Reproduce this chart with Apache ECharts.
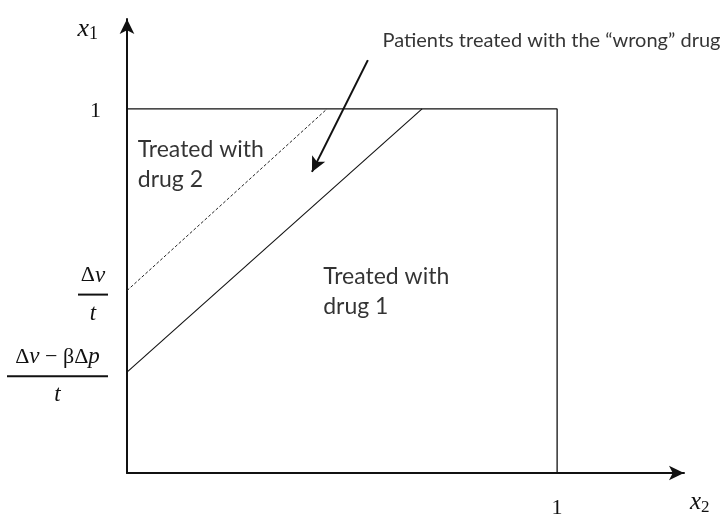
<!DOCTYPE html>
<html><head><meta charset="utf-8">
<script src="https://cdn.jsdelivr.net/npm/echarts@6/dist/echarts.min.js"></script>
<style>html,body{margin:0;padding:0;background:#fff}#c{width:724px;height:519px}</style>
</head><body><div id="c"></div>
<script>
// ---- data ----
const boxLine = [[0, 1], [1, 1], [1, 0]];
const solidBoundary = [[0, 0.277], [0.686, 1]];
const dashedBoundary = [[0, 0.501], [0.465, 1]];
const arrowFrom = [0.560, 1.134];
const arrowTo = [0.430, 0.827];
const yTickValues = [0.277, 0.501, 1];
const xTickValues = [1];
const titleNote = { value: [0.594, 1.225], text: 'Patients treated with the \u201cwrong\u201d drug' };
const regionNotes = [
  { value: [0.025, 0.930], text: 'Treated with\ndrug 2' },
  { value: [0.456, 0.580], text: 'Treated with\ndrug 1' }
];

const serif = 'Liberation Serif';
const sans = 'Lato';
const chart = echarts.init(document.getElementById('c'));

function yLabel(v) {
  if (Math.abs(v - 1) < 1e-6) return '{gap1| }\n{one|1}';
  if (Math.abs(v - 0.501) < 1e-6) return '{gap| }\n{u|\u0394}{i|v}\n{bar1| }\n{i|t}';
  return '{gap| }\n{u|\u0394}{i|v}{u| \u2212 \u03b2\u0394}{i|p}\n{bar2| }\n{i|t}';
}

chart.setOption({
  animation: false,
  grid: { left: 127, right: 40, top: 19, bottom: 45 },
  xAxis: {
    type: 'value', min: 0, max: 1.295,
    splitLine: { show: false },
    axisTick: { show: false },
    axisLine: { lineStyle: { color: '#111', width: 2 }, symbol: ['none', 'arrow'], symbolSize: [11, 15] },
    axisLabel: { customValues: xTickValues, formatter: () => '1', fontFamily: serif, fontSize: 22, color: '#111', margin: 24 },
    name: '{i|x}{s|2}', nameLocation: 'end', nameGap: 6,
    nameTextStyle: {
      align: 'left', verticalAlign: 'top', padding: [16, 0, 0, 0],
      rich: { i: { fontFamily: serif, fontStyle: 'italic', fontSize: 25, color: '#111' },
              s: { fontFamily: serif, fontSize: 17, color: '#111', padding: [10, 0, 0, 0] } }
    }
  },
  yAxis: {
    type: 'value', min: 0, max: 1.247,
    splitLine: { show: false },
    axisTick: { show: false },
    axisLine: { lineStyle: { color: '#111', width: 2 }, symbol: ['none', 'arrow'], symbolSize: [11, 15] },
    axisLabel: {
      customValues: yTickValues, formatter: yLabel, margin: 19, align: 'right', verticalAlign: 'middle',
      rich: {
        gap: { fontSize: 1, lineHeight: 8, height: 8 },
        gap1: { fontSize: 1, lineHeight: 4, height: 4 },
        one: { fontFamily: serif, fontSize: 22, color: '#111', padding: [0, 7, 0, 0] },
        u: { fontFamily: serif, fontSize: 22, color: '#111', lineHeight: 34, align: 'center' },
        i: { fontFamily: serif, fontStyle: 'italic', fontSize: 23, color: '#111', lineHeight: 34, align: 'center' },
        bar1: { width: 30, height: 2, lineHeight: 4, fontSize: 1, backgroundColor: '#111', align: 'center' },
        bar2: { width: 101, height: 2, lineHeight: 4, fontSize: 1, backgroundColor: '#111', align: 'center' }
      }
    },
    name: '{i|x}{s|1}', nameLocation: 'end', nameGap: -10,
    nameTextStyle: {
      align: 'right', verticalAlign: 'middle', padding: [0, 29, 0, 0],
      rich: { i: { fontFamily: serif, fontStyle: 'italic', fontSize: 26, color: '#111' },
              s: { fontFamily: serif, fontSize: 18, color: '#111', padding: [10, 0, 0, 0] } }
    }
  },
  series: [
    { type: 'line', data: boxLine, symbol: 'none', silent: true, lineStyle: { color: '#111', width: 1.3 } },
    { type: 'line', data: solidBoundary, symbol: 'none', silent: true, lineStyle: { color: '#111', width: 1.1 } },
    { type: 'line', data: dashedBoundary, symbol: 'none', silent: true, lineStyle: { color: '#222', width: 1, type: [3, 2] } },
    {
      type: 'line', data: [], silent: true,
      markLine: {
        silent: true, symbol: ['none', 'arrow'], symbolSize: [11, 15], label: { show: false },
        lineStyle: { color: '#111', width: 2, type: 'solid' },
        data: [[{ coord: arrowFrom }, { coord: arrowTo }]]
      }
    },
    {
      type: 'scatter', symbolSize: 0, silent: true,
      data: [{ value: titleNote.value, label: { formatter: titleNote.text, fontSize: 20, lineHeight: 28 } }]
        .concat(regionNotes.map(n => ({ value: n.value, label: { formatter: n.text } }))),
      label: { show: true, position: [0, 0], align: 'left', verticalAlign: 'top',
               fontFamily: sans, fontSize: 23, lineHeight: 30, color: '#000' }
    }
  ]
});
</script></body></html>
